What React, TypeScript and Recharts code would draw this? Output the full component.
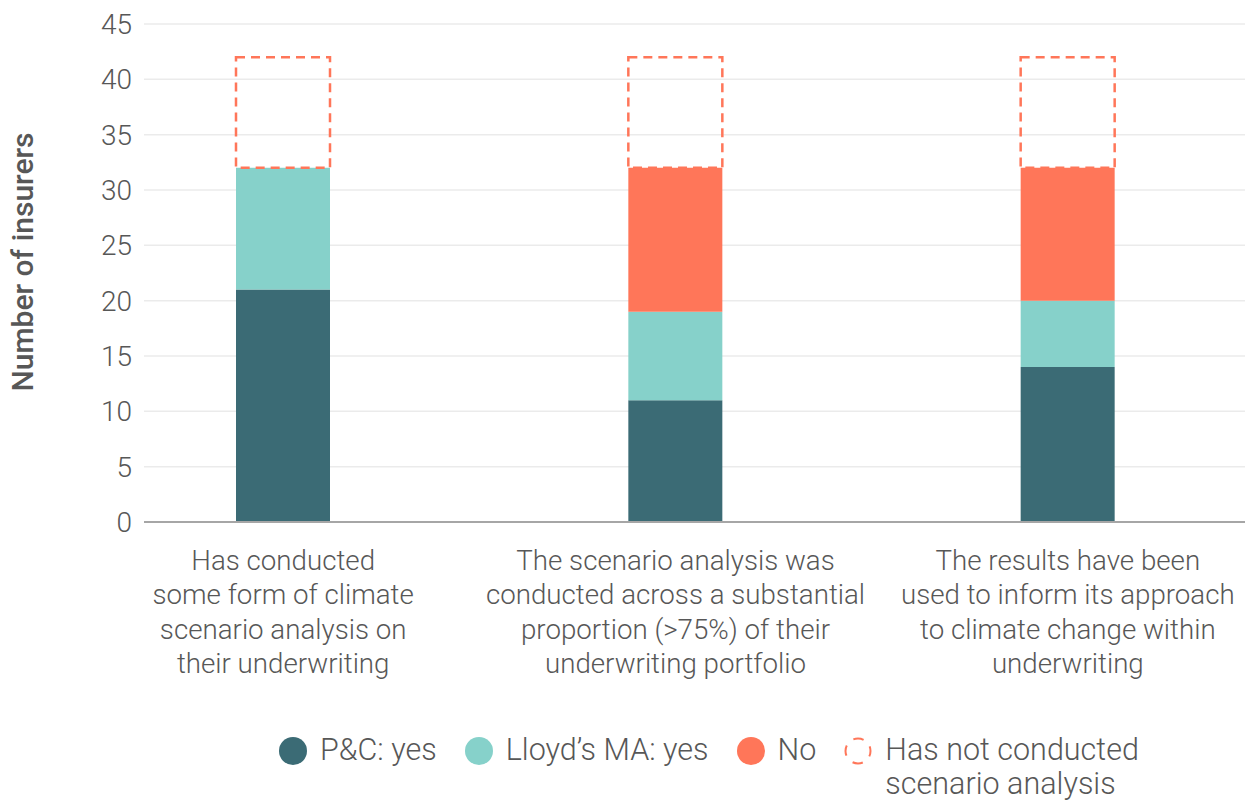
import React from 'react';
import { BarChart, Bar, XAxis, YAxis, CartesianGrid, Legend, Label } from 'recharts';

const categories = [
  'Has conducted\nsome form of climate\nscenario analysis on\ntheir underwriting',
  'The scenario analysis was\nconducted across a substantial\nproportion (>75%) of their\nunderwriting portfolio',
  'The results have been\nused to inform its approach\nto climate change within\nunderwriting',
];
const pcYes = [21, 11, 14];
const lloydsYes = [11, 8, 6];
const noValues = [0, 13, 12];
const notConducted = [10, 10, 10];
const yTicks = [0, 5, 10, 15, 20, 25, 30, 35, 40, 45];

const seriesOrder = ['pc', 'lloyds', 'no', 'nc'];
const seriesLabels: Record<string, string> = {
  pc: 'P&C: yes',
  lloyds: 'Lloyd\u2019s MA: yes',
  no: 'No',
  nc: 'Has not conducted\nscenario analysis',
};

const COLORS: Record<string, string> = { pc: '#3B6B75', lloyds: '#86D1CA', no: '#FF7659', nc: '#FF7659' };
const FONT = 'Roboto, "Helvetica Neue", Arial, sans-serif';
const TEXT = '#575757';

const data = categories.map((c, i) => ({
  category: c,
  pc: pcYes[i],
  lloyds: lloydsYes[i],
  no: noValues[i],
  nc: notConducted[i],
}));

const XTick = (props: any) => {
  const { x, y, payload } = props;
  const lines = String(payload.value).split('\n');
  return (
    <text x={x} y={y} textAnchor="middle" fill={TEXT} fontSize={27.7} fontFamily={FONT} fontWeight={300}>
      {lines.map((l, i) => (
        <tspan key={i} x={x} dy={i === 0 ? 48 : 34.4}>
          {l}
        </tspan>
      ))}
    </text>
  );
};

const YLabel = (props: any) => {
  const vb = props.viewBox || { x: 0, y: 0, width: 0, height: 0 };
  const cx = vb.x + 22;
  const cy = vb.y + vb.height / 2 - 11;
  return (
    <text
      x={cx}
      y={cy}
      transform={`rotate(-90, ${cx}, ${cy})`}
      textAnchor="middle"
      dominantBaseline="central"
      fill={TEXT}
      fontSize={30}
      fontFamily={FONT}
      fontWeight={500}
    >
      Number of insurers
    </text>
  );
};

const LegendContent = (props: any) => {
  const payload = [...(props.payload || [])].sort(
    (a: any, b: any) => seriesOrder.indexOf(a.dataKey) - seriesOrder.indexOf(b.dataKey)
  );
  return (
    <div
      style={{
        height: 80,
        boxSizing: 'border-box',
        display: 'flex',
        alignItems: 'flex-start',
        paddingLeft: 278,
        paddingTop: 12,
        fontFamily: FONT,
        fontSize: 30.5,
        fontWeight: 300,
        color: TEXT,
        lineHeight: '34px',
      }}
    >
      {payload.map((entry: any, idx: number) => {
        const key = entry.dataKey as string;
        const label = seriesLabels[key] || entry.value;
        const dashed = key === 'nc';
        return (
          <div key={idx} style={{ display: 'flex', alignItems: 'flex-start', marginRight: 27 }}>
            <svg width={30} height={30} style={{ marginTop: 3, marginRight: 12, flex: 'none' }}>
              {dashed ? (
                <circle
                  cx={15}
                  cy={15}
                  r={12.5}
                  fill="none"
                  stroke={COLORS.nc}
                  strokeWidth={2}
                  strokeDasharray="10.5 9.1"
                  strokeDashoffset={5}
                />
              ) : (
                <circle cx={15} cy={15} r={14} fill={COLORS[key]} />
              )}
            </svg>
            <div style={{ whiteSpace: 'pre' }}>{label}</div>
          </div>
        );
      })}
    </div>
  );
};

export default function App() {
  return (
    <div style={{ position: 'absolute', left: 0, top: 0, background: '#fff' }}>
      <BarChart
        width={1245}
        height={801}
        data={data}
        margin={{ top: 24, right: 0, bottom: 0, left: 0 }}
      >
        <CartesianGrid vertical={false} stroke="#ebebeb" strokeWidth={1.5} />
        <XAxis
          dataKey="category"
          height={199}
          tick={<XTick />}
          tickLine={false}
          tickSize={0}
          tickMargin={0}
          axisLine={{ stroke: '#a6a6a6', strokeWidth: 2 }}
          padding={{ left: -57, right: -19 }}
          interval={0}
        />
        <YAxis
          width={144}
          domain={[0, 45]}
          ticks={yTicks}
          interval={0}
          axisLine={false}
          tickLine={false}
          tickSize={0}
          tickMargin={12}
          tick={{ fill: TEXT, fontSize: 28, fontFamily: FONT, fontWeight: 300 }}
        >
          <Label content={<YLabel />} />
        </YAxis>
        <Legend verticalAlign="bottom" content={<LegendContent />} />
        <Bar dataKey="pc" name={seriesLabels.pc} stackId="a" fill={COLORS.pc} barSize={94} isAnimationActive={false} />
        <Bar dataKey="lloyds" name={seriesLabels.lloyds} stackId="a" fill={COLORS.lloyds} barSize={94} isAnimationActive={false} />
        <Bar dataKey="no" name={seriesLabels.no} stackId="a" fill={COLORS.no} barSize={94} isAnimationActive={false} />
        <Bar
          dataKey="nc"
          name={seriesLabels.nc}
          stackId="a"
          fill="none"
          stroke={COLORS.nc}
          strokeWidth={2.5}
          strokeDasharray="9 6"
          barSize={94}
          isAnimationActive={false}
        />
      </BarChart>
    </div>
  );
}
